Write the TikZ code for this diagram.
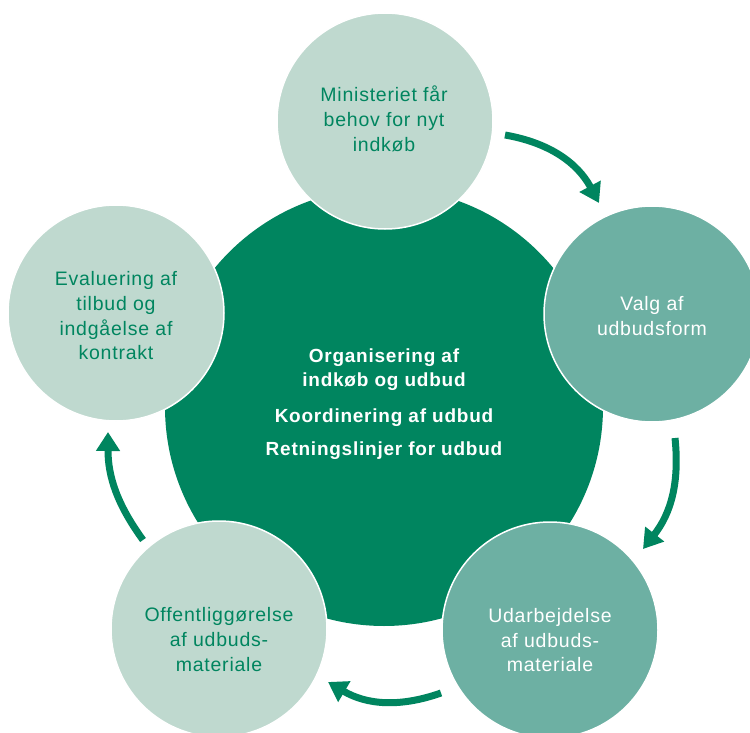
\documentclass[tikz,border=0pt]{standalone}
\usepackage{fontspec}
\setmainfont{Liberation Sans}[LetterSpace=4]
\usetikzlibrary{arrows.meta}
\definecolor{dkgreen}{HTML}{00855F}
\definecolor{ltgreen}{HTML}{BFD9CF}
\definecolor{mdgreen}{HTML}{6DB0A3}
\begin{document}
\begin{tikzpicture}[x=1pt,y=-1pt,
  stage/.style={circle, minimum size=216pt, inner sep=0pt, draw=white, line width=1.5pt},
  lt/.style={stage, fill=ltgreen},
  md/.style={stage, fill=mdgreen},
  dtxt/.style={anchor=base, inner sep=0pt, text=dkgreen, font=\fontsize{19.5}{24}\selectfont},
  wtxt/.style={dtxt, text=white},
  btxt/.style={anchor=base, inner sep=0pt, text=white, font=\fontsize{19}{24}\selectfont\bfseries},
  flow/.style={draw=dkgreen, line width=7pt, -{Triangle[width=23pt,length=19pt]}}]
\useasboundingbox (0,0) rectangle (750,733);
\fill[white] (0,0) rectangle (750,733);
\node[circle, fill=dkgreen, minimum size=438pt, inner sep=0pt] (hub) at (384,407) {};
\node[lt] (s1) at (385,121) {};
\node[md] (s2) at (652,314) {};
\node[md] (s3) at (550,630) {};
\node[lt] (s4) at (219,629) {};
\node[lt] (s5) at (116,313) {};
% arrows
\coordinate (a1s) at (505,135); \coordinate (a1e) at (599,203);
\coordinate (a2s) at (675,438); \coordinate (a2e) at (643,549);
\coordinate (a3s) at (441,693); \coordinate (a3e) at (328,682);
\coordinate (a4s) at (143,540); \coordinate (a4e) at (108,432);
\draw[flow] (a1s) to[bend left=26] (a1e);
\draw[flow] (a2s) to[bend left=22] (a2e);
\draw[flow] (a3s) to[bend left=25] (a3e);
\draw[flow] (a4s) to[bend left=18] (a4e);
% texts
\node[dtxt] (t1a) at (384,101.7) {Ministeriet får};
\node[dtxt] (t1b) at (384,126.7) {behov for nyt};
\node[dtxt] (t1c) at (384,151.7) {indkøb};
\node[wtxt] (t2a) at (652,310) {Valg af};
\node[wtxt] (t2b) at (652,335) {udbudsform};
\node[wtxt] (t3a) at (550,622.3) {Udarbejdelse};
\node[wtxt] (t3b) at (550,647.3) {af udbuds-};
\node[wtxt] (t3c) at (550,671.7) {materiale};
\node[dtxt] (t4a) at (219,621.7) {Offentliggørelse};
\node[dtxt] (t4b) at (219,646.7) {af udbuds-};
\node[dtxt] (t4c) at (219,671.7) {materiale};
\node[dtxt] (t5a) at (116,285.7) {Evaluering af};
\node[dtxt] (t5b) at (116,310) {tilbud og};
\node[dtxt] (t5c) at (116,335) {indgåelse af};
\node[dtxt] (t5d) at (116,359) {kontrakt};
\node[btxt] (h1) at (384,362.3) {Organisering af};
\node[btxt] (h2) at (384,386) {indkøb og udbud};
\node[btxt] (h3) at (384,422.7) {Koordinering af udbud};
\node[btxt] (h4) at (384,455.5) {Retningslinjer for udbud};
\end{tikzpicture}
\end{document}
